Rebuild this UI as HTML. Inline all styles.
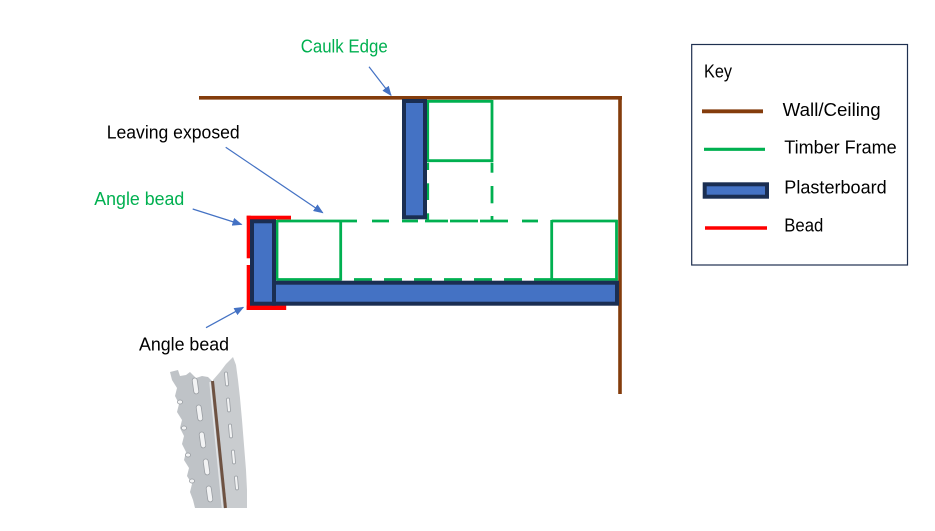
<!DOCTYPE html>
<html>
<head>
<meta charset="utf-8">
<style>
html,body{margin:0;padding:0;background:#fff;}
svg{display:block;}
text{font-family:"Liberation Sans",Arial,sans-serif;font-size:18px;}
</style>
</head>
<body>
<svg width="935" height="531" viewBox="0 0 935 531" xmlns="http://www.w3.org/2000/svg">
<defs>
<marker id="ah" markerWidth="10" markerHeight="8" refX="9" refY="4" orient="auto" markerUnits="userSpaceOnUse">
<path d="M0,0 L10,4 L0,8 Z" fill="#4472C4"/>
</marker>
</defs>
<rect width="935" height="531" fill="#fff"/>

<!-- Wall/Ceiling -->
<line x1="199" y1="97.8" x2="622" y2="97.8" stroke="#843C0C" stroke-width="3.6"/>
<line x1="620" y1="96" x2="620" y2="394" stroke="#843C0C" stroke-width="3.6"/>

<!-- Timber frame (green) -->
<g stroke="#00B050" stroke-width="2.8" fill="none">
<!-- upper box -->
<line x1="427.7" y1="101.3" x2="492" y2="101.3"/>
<line x1="427.7" y1="100" x2="427.7" y2="162"/>
<line x1="492" y1="100" x2="492" y2="162"/>
<line x1="427.7" y1="160.7" x2="492" y2="160.7"/>
<!-- dashed verticals -->
<line x1="427.7" y1="162.7" x2="427.7" y2="170"/>
<line x1="427.7" y1="183.3" x2="427.7" y2="200"/>
<line x1="427.7" y1="213.3" x2="427.7" y2="220"/>
<line x1="492" y1="162.7" x2="492" y2="172.7"/>
<line x1="492" y1="186" x2="492" y2="203.3"/>
<line x1="492" y1="216" x2="492" y2="220"/>
<!-- left box -->
<line x1="277" y1="221" x2="357" y2="221"/>
<line x1="277" y1="220" x2="277" y2="280.5"/>
<line x1="340.7" y1="220" x2="340.7" y2="280.5"/>
<line x1="277" y1="279.5" x2="341" y2="279.5"/>
<!-- top dashes -->
<line x1="372" y1="221" x2="389" y2="221"/>
<line x1="402" y1="221" x2="418" y2="221"/>
<line x1="425" y1="221" x2="448" y2="221"/>
<line x1="450" y1="221" x2="478" y2="221"/>
<line x1="480" y1="221" x2="508" y2="221"/>
<line x1="522" y1="221" x2="538" y2="221"/>
<!-- bottom dashes -->
<line x1="354" y1="279.5" x2="372" y2="279.5"/>
<line x1="384" y1="279.5" x2="402" y2="279.5"/>
<line x1="414" y1="279.5" x2="432" y2="279.5"/>
<line x1="444" y1="279.5" x2="462" y2="279.5"/>
<line x1="474" y1="279.5" x2="492" y2="279.5"/>
<line x1="504" y1="279.5" x2="522" y2="279.5"/>
<line x1="534" y1="279.5" x2="552" y2="279.5"/>
<!-- right box -->
<line x1="551.7" y1="221" x2="617.7" y2="221"/>
<line x1="551.7" y1="220" x2="551.7" y2="280.5"/>
<line x1="616.5" y1="220" x2="616.5" y2="280.5"/>
<line x1="551" y1="279.5" x2="617.7" y2="279.5"/>
</g>

<!-- Red bead -->
<g fill="#FF0000">
<rect x="246.7" y="215.7" width="44.3" height="3.8"/>
<rect x="246.7" y="215.7" width="4" height="42.6"/>
<rect x="246.7" y="265" width="4" height="45"/>
<rect x="246.7" y="305.5" width="39.5" height="4.5"/>
</g>

<!-- Plasterboard -->
<g fill="#4472C4" stroke="#1A2E52" stroke-width="4">
<rect x="404" y="101" width="21" height="116.3"/>
<rect x="274" y="282.7" width="343" height="21"/>
<rect x="252" y="221.3" width="22" height="82.4"/>
</g>
<line x1="274" y1="284.7" x2="274" y2="301.7" stroke="#1A2E52" stroke-width="4"/>

<!-- Arrows -->
<g stroke="#4472C4" stroke-width="1.2" fill="none" marker-end="url(#ah)">
<line x1="369" y1="66.7" x2="391" y2="95.3"/>
<line x1="225.7" y1="147.3" x2="322.7" y2="212.7"/>
<line x1="192.7" y1="209" x2="241.5" y2="224.5"/>
<line x1="206" y1="327.7" x2="243.3" y2="307.3"/>
</g>

<!-- Labels -->
<text x="300.7" y="52.3" fill="#00B050" textLength="87" lengthAdjust="spacingAndGlyphs">Caulk Edge</text>
<text x="106.7" y="138.3" fill="#000" textLength="133" lengthAdjust="spacingAndGlyphs">Leaving exposed</text>
<text x="94.3" y="205" fill="#00B050" textLength="90" lengthAdjust="spacingAndGlyphs">Angle bead</text>
<text x="139" y="350.7" fill="#000" textLength="90" lengthAdjust="spacingAndGlyphs">Angle bead</text>

<!-- Key -->
<rect x="691.7" y="44.5" width="215.8" height="220.5" fill="none" stroke="#1F3050" stroke-width="1.2"/>
<text x="704" y="77.7" fill="#000" textLength="28" lengthAdjust="spacingAndGlyphs">Key</text>
<line x1="702" y1="111.3" x2="763" y2="111.3" stroke="#843C0C" stroke-width="3.8"/>
<text x="782.7" y="116" fill="#000" textLength="98" lengthAdjust="spacingAndGlyphs">Wall/Ceiling</text>
<line x1="704" y1="149.3" x2="765" y2="149.3" stroke="#00B050" stroke-width="3.2"/>
<text x="784.3" y="153.3" fill="#000" textLength="112.4" lengthAdjust="spacingAndGlyphs">Timber Frame</text>
<rect x="704.7" y="184.3" width="62.3" height="12.4" fill="#4472C4" stroke="#1A2E52" stroke-width="4"/>
<text x="784.3" y="193.3" fill="#000" textLength="102.4" lengthAdjust="spacingAndGlyphs">Plasterboard</text>
<line x1="705" y1="228" x2="767" y2="228" stroke="#FF0000" stroke-width="3.6"/>
<text x="784.3" y="231.7" fill="#000" textLength="39" lengthAdjust="spacingAndGlyphs">Bead</text>

<!-- Angle bead photo approximation -->
<g>
<polygon points="170,372 178,370 180,376 186,375 190,372 196,378 202,376 208,377 212,381 226,508 195,508 193,500 190,492 192,484 187,476 189,468 184,460 186,452 182,444 184,436 180,428 182,420 177,412 179,404 175,396 177,388 172,380" fill="#BFC3C7"/>
<polygon points="213,380 220,372 226,364 233,357 236,365 238,380 240,398 242,420 244,445 246,470 247,490 247,508 227,508" fill="#C9CCCF"/>
<line x1="212.5" y1="381" x2="225.5" y2="508" stroke="#6E5242" stroke-width="3"/>
<line x1="210" y1="382" x2="222.5" y2="508" stroke="#E3E5E7" stroke-width="1.5"/>
<g fill="#F2F3F4" stroke="#9A9EA3" stroke-width="0.8">
<rect x="193" y="378" width="5" height="16" rx="2.5" transform="rotate(-8 195 386)"/>
<rect x="197" y="405" width="5" height="16" rx="2.5" transform="rotate(-8 199 413)"/>
<rect x="200" y="432" width="5" height="16" rx="2.5" transform="rotate(-8 202 440)"/>
<rect x="204" y="459" width="5" height="16" rx="2.5" transform="rotate(-8 206 467)"/>
<rect x="207" y="486" width="5" height="16" rx="2.5" transform="rotate(-8 209 494)"/>
<ellipse cx="180" cy="402" rx="2.5" ry="2"/>
<ellipse cx="184" cy="428" rx="2.5" ry="2"/>
<ellipse cx="188" cy="455" rx="2.5" ry="2"/>
<ellipse cx="192" cy="481" rx="2.5" ry="2"/>
<rect x="225" y="372" width="3" height="14" rx="1.5" transform="rotate(-5 226 379)"/>
<rect x="227" y="398" width="3" height="14" rx="1.5" transform="rotate(-5 228 405)"/>
<rect x="229" y="424" width="3" height="14" rx="1.5" transform="rotate(-5 230 431)"/>
<rect x="232" y="450" width="3" height="14" rx="1.5" transform="rotate(-5 233 457)"/>
<rect x="235" y="476" width="3" height="14" rx="1.5" transform="rotate(-5 236 483)"/>
</g>
</g>
</svg>
</body>
</html>
